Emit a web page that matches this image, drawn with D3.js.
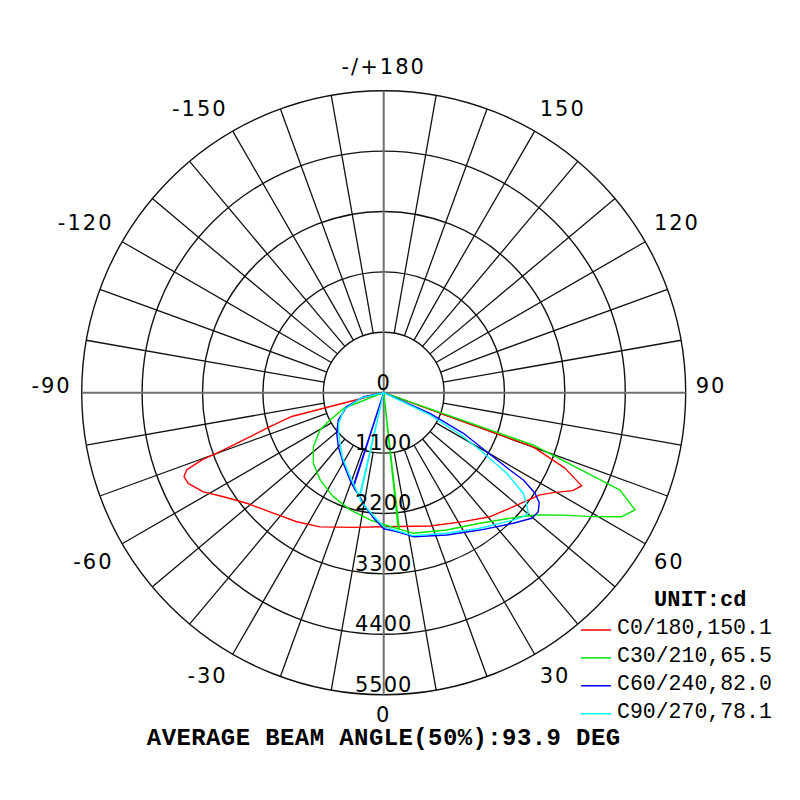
<!DOCTYPE html>
<html><head><meta charset="utf-8">
<script src="https://cdn.jsdelivr.net/npm/d3@7"></script>
<style>html,body{margin:0;padding:0;background:#fff;}</style>
</head><body>
<svg id="c" width="800" height="800"></svg>
<script>
// ---- data ----
const ringValues = [0, 1100, 2200, 3300, 4400, 5500];
const ringLabels = ["0", "1100", "2200", "3300", "4400", "5500"];
const angleTicks = [0, 30, 60, 90, 120, 150, 180, -150, -120, -90, -60, -30];
const angleTickLabels = ["0", "30", "60", "90", "120", "150", "-/+180", "-150", "-120", "-90", "-60", "-30"];
const seriesNames = ["C0/180,150.1", "C30/210,65.5", "C60/240,82.0", "C90/270,78.1"];
const seriesColors = ["#ff0000", "#00e600", "#0000ff", "#00ffff"];
const unitLabel = "UNIT:cd";
const titleText = "AVERAGE BEAM ANGLE(50%):93.9 DEG";

// [gamma (deg), intensity (cd)]
const c0_180 = [[-90,0],[-80,0],[-75.5,1730],[-73.4,2160],[-70.3,3095],[-69.7,3535],[-68.6,3855],[-67.2,3945],[-65.1,3925],[-61.2,3750],[-57,3480],[-51.1,3205],[-43.7,3000],[-34,2835],[-25.4,2705],[-12.7,2515],[0,2440],[19.2,2570],[31.7,2760],[40.6,2975],[48.7,3145],[56.8,3400],[59.5,3585],[62.6,3875],[64.8,3985],[67.4,3575],[70.1,2895],[75,0],[90,0]];
const c30_210 = [[-90,0],[-75,0],[-68.7,780],[-62.5,1135],[-59.6,1345],[-52.5,1615],[-44.9,1815],[-36.1,1965],[-25.9,2105],[-16,2220],[-6.1,2330],[0,2400],[6.1,2495],[6.3,0],[6.5,2500],[11.9,2615],[24.6,2750],[36.4,2955],[47.7,3355],[51.4,3570],[55.7,3955],[59.4,4435],[62.5,4890],[65,5050],[67.6,4655],[70.7,2880],[75,0],[90,0]];
const c60_240 = [[-90,0],[-85,0],[-78.7,370],[-69.3,720],[-59,965],[-49.2,1130],[-40,1285],[-29.8,1480],[-21.1,1705],[-18.1,1795],[-17.9,0],[-17.7,1800],[-16.4,1845],[-12.8,1943],[-10,2076],[-5,2276],[0,2477],[5.3,2540],[11.6,2677],[23.9,2834],[35,3054],[44.8,3351],[49.7,3535],[52.4,3553],[54.7,3471],[56.4,3309],[58,3000],[58.5,2695],[60.2,2162],[63,1628],[66,923],[69,0],[90,0]];
const c90_270 = [[-90,0],[-85,0],[-76.5,437],[-66.6,794],[-55.8,990],[-48,1104],[-33,1390],[-23.5,1600],[-13.2,1945],[-13,0],[-12.8,1955],[-12.3,2000],[-8.4,2127],[0,2440],[11.7,2659],[24.1,2805],[35.4,3029],[45.5,3309],[48.4,3400],[50.2,3429],[51.9,3311],[54.2,3132],[56.8,2677],[59.2,2040],[61.1,1657],[64.3,936],[67.5,0],[90,0]];
const seriesData = [c0_180, c30_210, c60_240, c90_270];

// ---- layout ----
const cx = 383.7, cy = 392.7, R = 302;
const svg = d3.select("#c");
const r = d3.scaleLinear().domain([0, 5500]).range([0, R]);
const rad = g => g * Math.PI / 180;

const g = svg.append("g").attr("transform", `translate(${cx},${cy})`);

// rings
g.selectAll("circle.ring").data(ringValues.slice(1)).join("circle")
  .attr("r", d => r(d)).attr("fill", "none").attr("stroke", "#111").attr("stroke-width", 1.4);

// radial spokes every 10 deg (not on main axes)
const spokes = d3.range(0, 360, 10).filter(a => a % 90 !== 0);
g.selectAll("line.spoke").data(spokes).join("line")
  .attr("x1", a => r(1100) * Math.sin(rad(a))).attr("y1", a => r(1100) * Math.cos(rad(a)))
  .attr("x2", a => R * Math.sin(rad(a))).attr("y2", a => R * Math.cos(rad(a)))
  .attr("stroke", "#111").attr("stroke-width", 1.3);

// main axes
[[0, 180], [90, 270]].forEach(([a1, a2]) => {
  g.append("line")
    .attr("x1", R * Math.sin(rad(a1))).attr("y1", R * Math.cos(rad(a1)))
    .attr("x2", R * Math.sin(rad(a2))).attr("y2", R * Math.cos(rad(a2)))
    .attr("stroke", "#707070").attr("stroke-width", 2);
});

// curves
const line = d3.lineRadial()
  .angle(d => Math.PI - rad(d[0]))
  .radius(d => r(d[1]));
seriesData.forEach((data, i) => {
  g.append("path").attr("d", line(data))
    .attr("fill", "none").attr("stroke", seriesColors[i]).attr("stroke-width", 1.4)
    .attr("stroke-linejoin", "round");
});

// ring labels
g.selectAll("text.ringlab").data(ringValues).join("text")
  .attr("x", 0).attr("y", d => r(d) - 3)
  .attr("text-anchor", "middle")
  .attr("font-family", "DejaVu Sans").attr("font-size", 21).attr("letter-spacing", 1)
  .attr("fill", "#000").text((d, i) => ringLabels[i]);

// angle labels
const rl = R + 10;
g.selectAll("text.anglab").data(angleTicks).join("text")
  .attr("x", a => rl * Math.sin(rad(a)))
  .attr("y", a => {
    const c = Math.cos(rad(a));
    const y = rl * c;
    return c > 0.99 ? y + 17 : (c > 0.01 ? y + 20 : (c < -0.01 ? y - 7 : y));
  })
  .attr("text-anchor", a => {
    const s = Math.sin(rad(a));
    return s > 0.01 ? "start" : (s < -0.01 ? "end" : "middle");
  })
  .attr("font-family", "DejaVu Sans").attr("font-size", 21).attr("letter-spacing", 2)
  .attr("fill", "#000").text((a, i) => angleTickLabels[i]);

// title
svg.append("text").attr("x", cx).attr("y", 745).attr("text-anchor", "middle")
  .attr("font-family", "Liberation Mono").attr("font-weight", "bold").attr("font-size", 24)
  .attr("letter-spacing", 0.4)
  .attr("fill", "#000").text(titleText);

// legend
svg.append("text").attr("x", 654).attr("y", 606)
  .attr("font-family", "Liberation Mono").attr("font-weight", "bold").attr("font-size", 22)
  .attr("fill", "#000").text(unitLabel);
const lg = svg.append("g");
seriesNames.forEach((name, i) => {
  const y = 634 + 27.9 * i;
  lg.append("line").attr("x1", 581).attr("x2", 611).attr("y1", y - 4).attr("y2", y - 4)
    .attr("stroke", seriesColors[i]).attr("stroke-width", 1.5);
  lg.append("text").attr("x", 617).attr("y", y)
    .attr("font-family", "Liberation Mono").attr("font-size", 21.5)
    .attr("fill", "#000").text(name);
});
</script>
</body></html>
